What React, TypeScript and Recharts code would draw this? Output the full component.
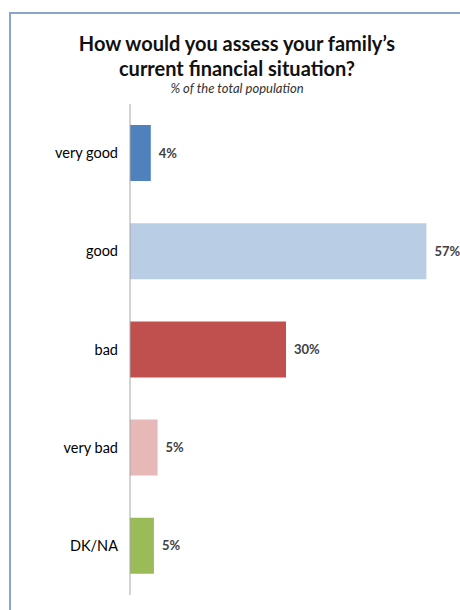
import React from 'react';
import { BarChart, Bar, XAxis, YAxis, Cell, LabelList } from 'recharts';

const categories = ['very good', 'good', 'bad', 'very bad', 'DK/NA'];
const shares = [4, 57, 30, 5.3, 4.6];
const barColors = ['#4f81bd', '#b9cde5', '#c0504d', '#e6b9b8', '#9bbb59'];

const data = categories.map((name, i) => ({ name, value: shares[i] }));

const FONT = 'Lato, "Liberation Sans", sans-serif';

export default function App() {
  return (
    <div style={{ position: 'absolute', left: 0, top: 0, width: 460, height: 610, overflow: 'hidden', background: '#fff', fontFamily: FONT }}>
      {/* frame of the original slide */}
      <div style={{ position: 'absolute', left: 9, top: 12, width: 480, height: 640, border: '2px solid #8ca3cc' }} />
      <div style={{ position: 'absolute', left: 0, top: 31, width: 474, textAlign: 'center', fontWeight: 700, fontSize: 20, lineHeight: '25px', color: '#111' }}>
        How would you assess your family’s
        <br />
        current financial situation?
      </div>
      <div style={{ position: 'absolute', left: 0, top: 80, width: 474, textAlign: 'center', fontStyle: 'italic', fontSize: 13, color: '#333' }}>
        % of the total population
      </div>
      <div style={{ position: 'absolute', left: 0, top: 0 }}>
        <BarChart
          width={460}
          height={610}
          data={data}
          layout="vertical"
          margin={{ top: 104, right: 18, bottom: 15, left: 0 }}
        >
          <XAxis type="number" domain={[0, 60]} hide />
          <YAxis
            type="category"
            dataKey="name"
            width={130}
            tickLine={false}
            tickMargin={6}
            axisLine={{ stroke: '#a6a6a6' }}
            tick={{ fill: '#000', fontSize: 14.5, fontFamily: FONT }}
          />
          <Bar dataKey="value" barSize={56} isAnimationActive={false}>
            {data.map((d, i) => (
              <Cell key={d.name} fill={barColors[i]} />
            ))}
            <LabelList
              dataKey="value"
              position="right"
              offset={8}
              formatter={(v: number) => `${Math.round(v)}%`}
              style={{ fill: '#404040', fontSize: 13, fontWeight: 700, fontFamily: FONT }}
            />
          </Bar>
        </BarChart>
      </div>
    </div>
  );
}
